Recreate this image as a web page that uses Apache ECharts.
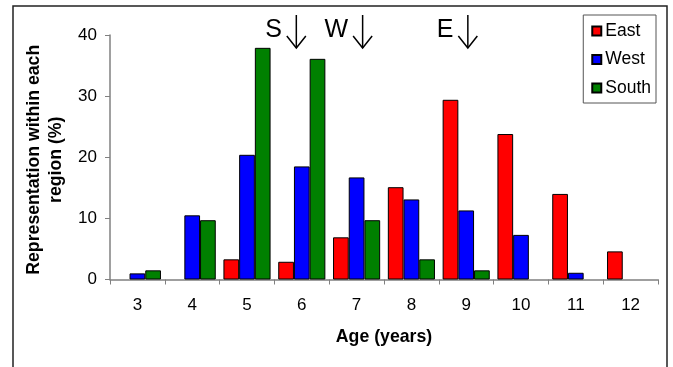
<!DOCTYPE html>
<html>
<head>
<meta charset="utf-8">
<script src="https://cdn.jsdelivr.net/npm/echarts@6/dist/echarts.min.js"></script>
<style>
  html, body { margin: 0; padding: 0; background: #fff; }
  #chart { width: 673px; height: 367px; }
</style>
</head>
<body>
<div id="chart"></div>
<script>
// Age classes (years)
const ages = ['3', '4', '5', '6', '7', '8', '9', '10', '11', '12'];

// Representation within each region (%) by age class; '-' = no fish of that age
const east  = ['-', '-', 3.3, 2.9, 6.9, 15.1, 29.4, 23.8, 14.0, 4.6];
const west  = [1.0, 10.5, 20.4, 18.5, 16.7, 13.1, 11.3, 7.3, 1.1, '-'];
const south = [1.5, 9.7, 37.9, 36.1, 9.7, 3.3, 1.5, '-', '-', '-'];

// Mean age per region, shown as arrows above the bars (category index units, age 3 = 0)
const meanMarkers = [
  { label: 'S', pos: 2.90 },
  { label: 'W', pos: 4.11 },
  { label: 'E', pos: 6.03 }
];

const FONT = '"Liberation Sans", Arial, sans-serif';

const chart = echarts.init(document.getElementById('chart'), null, { renderer: 'canvas' });

function barSeries(name, data, color) {
  return {
    name: name,
    type: 'bar',
    data: data,
    barGap: '0%',
    barCategoryGap: '14%',
    itemStyle: { color: color, borderColor: '#000', borderWidth: 1 }
  };
}

chart.setOption({
  animation: false,
  backgroundColor: '#fff',
  textStyle: { fontFamily: FONT },
  grid: { left: 110, right: 15, top: 35, bottom: 87.5 },
  legend: {
    orient: 'vertical',
    right: 17,
    top: 15,
    itemWidth: 9,
    itemHeight: 9,
    itemGap: 10.5,
    padding: [7, 5, 6, 8],
    borderColor: '#555',
    borderWidth: 1,
    backgroundColor: '#fff',
    icon: 'rect',
    textStyle: { fontFamily: FONT, fontSize: 17.5, color: '#000', padding: [0, 0, 0, -1] },
    data: ['East', 'West', 'South']
  },
  xAxis: {
    type: 'category',
    data: ages,
    name: 'Age (years)',
    nameLocation: 'middle',
    nameGap: 49,
    nameTextStyle: { fontFamily: FONT, fontSize: 17.7, fontWeight: 'bold', color: '#000' },
    axisLine: { lineStyle: { color: '#808080', width: 1.5 } },
    axisTick: { show: true, length: 5, lineStyle: { color: '#808080' } },
    axisLabel: { margin: 17, fontSize: 17, color: '#000', fontFamily: FONT }
  },
  yAxis: {
    type: 'value',
    min: 0,
    max: 40,
    interval: 10,
    name: 'Representation within each\nregion (%)',
    nameLocation: 'middle',
    nameRotate: 90,
    nameGap: 42,
    nameTextStyle: {
      fontFamily: FONT, fontSize: 17.7, fontWeight: 'bold', color: '#000',
      lineHeight: 22, align: 'center', padding: [0, 5, 0, 0]
    },
    splitLine: { show: false },
    axisLine: { show: true, lineStyle: { color: '#808080', width: 1.5 } },
    axisTick: { show: true, length: 5, lineStyle: { color: '#808080' } },
    axisLabel: { margin: 13, fontSize: 17, color: '#000', fontFamily: FONT }
  },
  series: [
    barSeries('East', east, '#ff0000'),
    barSeries('West', west, '#0000ff'),
    barSeries('South', south, '#008000')
  ]
});

// Pixel x of a fractional category position (interpolated between category centres)
function categoryX(pos) {
  const i0 = Math.floor(pos);
  const x0 = chart.convertToPixel({ xAxisIndex: 0 }, i0);
  const x1 = chart.convertToPixel({ xAxisIndex: 0 }, i0 + 1);
  return x0 + (x1 - x0) * (pos - i0);
}

// Outer chart frame plus the mean-age arrows
const graphics = [{
  type: 'rect',
  shape: { x: 13, y: 6, width: 654, height: 400 },
  style: { fill: 'none', stroke: '#222', lineWidth: 1.5 },
  silent: true,
  z: -1
}];

meanMarkers.forEach(function (m) {
  const x = categoryX(m.pos);
  graphics.push({
    type: 'text',
    style: {
      text: m.label,
      x: x - 14.5,
      y: 30,
      align: 'right',
      verticalAlign: 'middle',
      font: '25px ' + FONT,
      fill: '#000'
    }
  });
  graphics.push({
    type: 'polyline',
    shape: { points: [[x, 15], [x, 48]] },
    style: { stroke: '#000', lineWidth: 1.5, fill: 'none' }
  });
  graphics.push({
    type: 'polyline',
    shape: { points: [[x - 9.5, 36], [x, 48], [x + 9.5, 36]] },
    style: { stroke: '#000', lineWidth: 1.5, fill: 'none' }
  });
});

chart.setOption({ graphic: graphics });
</script>
</body>
</html>
